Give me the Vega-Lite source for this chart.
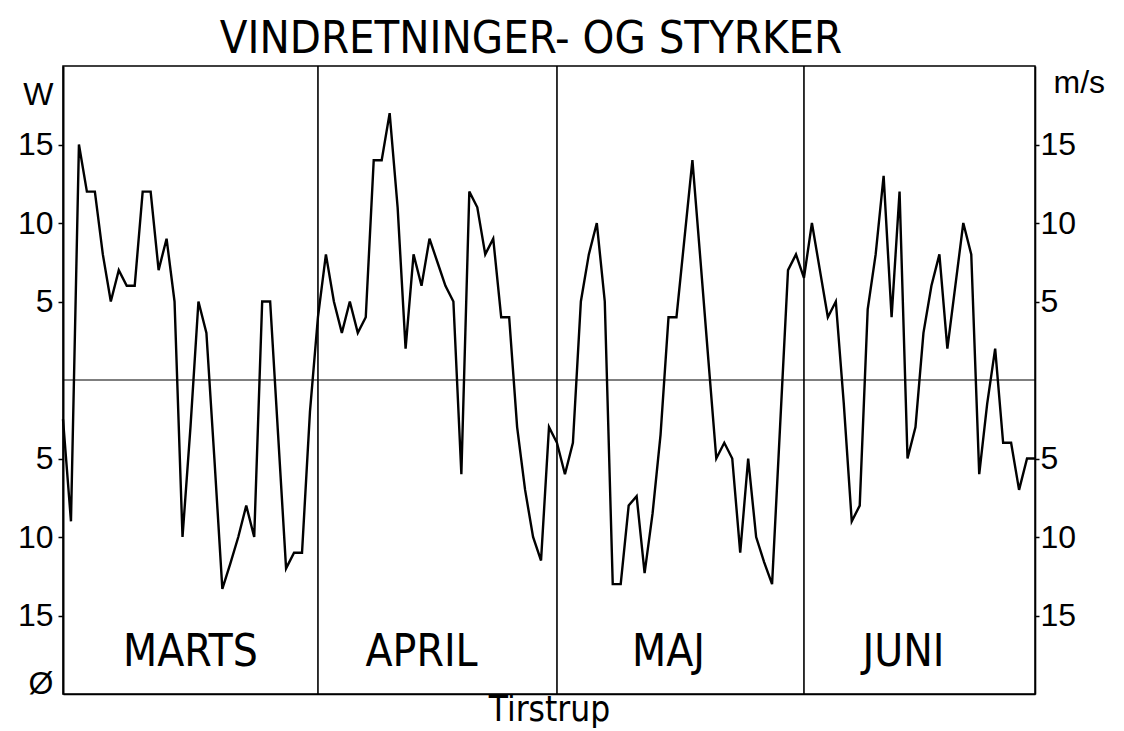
{
  "$schema": "https://vega.github.io/schema/vega-lite/v6.json",
  "width": 972,
  "height": 628,
  "autosize": {"type": "none"},
  "padding": {"left": 63, "top": 66, "right": 89, "bottom": 37},
  "background": "white",
  "title": {
    "text": "VINDRETNINGER- OG STYRKER",
    "font": "DejaVu Sans Condensed, Liberation Sans, sans-serif",
    "fontSize": 45,
    "fontWeight": "normal",
    "color": "black",
    "anchor": "middle",
    "baseline": "alphabetic",
    "offset": 11,
    "dx": -18,
    "dy": 44
  },
  "config": {"view": {"stroke": "black", "strokeWidth": 1.5}},
  "datasets": {
    "vind": [
      {"dag": 0, "vind": -2.5}, {"dag": 1, "vind": -9}, {"dag": 2, "vind": 15}, {"dag": 3, "vind": 12},
      {"dag": 4, "vind": 12}, {"dag": 5, "vind": 8}, {"dag": 6, "vind": 5}, {"dag": 7, "vind": 7},
      {"dag": 8, "vind": 6}, {"dag": 9, "vind": 6}, {"dag": 10, "vind": 12}, {"dag": 11, "vind": 12},
      {"dag": 12, "vind": 7}, {"dag": 13, "vind": 9}, {"dag": 14, "vind": 5}, {"dag": 15, "vind": -10},
      {"dag": 16, "vind": -3}, {"dag": 17, "vind": 5}, {"dag": 18, "vind": 3}, {"dag": 19, "vind": -5},
      {"dag": 20, "vind": -13.3}, {"dag": 21, "vind": -11.7}, {"dag": 22, "vind": -10}, {"dag": 23, "vind": -8},
      {"dag": 24, "vind": -10}, {"dag": 25, "vind": 5}, {"dag": 26, "vind": 5}, {"dag": 27, "vind": -3.5},
      {"dag": 28, "vind": -12}, {"dag": 29, "vind": -11}, {"dag": 30, "vind": -11}, {"dag": 31, "vind": -2},
      {"dag": 32, "vind": 4}, {"dag": 33, "vind": 8}, {"dag": 34, "vind": 5}, {"dag": 35, "vind": 3},
      {"dag": 36, "vind": 5}, {"dag": 37, "vind": 3}, {"dag": 38, "vind": 4}, {"dag": 39, "vind": 14},
      {"dag": 40, "vind": 14}, {"dag": 41, "vind": 17}, {"dag": 42, "vind": 11}, {"dag": 43, "vind": 2},
      {"dag": 44, "vind": 8}, {"dag": 45, "vind": 6}, {"dag": 46, "vind": 9}, {"dag": 47, "vind": 7.5},
      {"dag": 48, "vind": 6}, {"dag": 49, "vind": 5}, {"dag": 50, "vind": -6}, {"dag": 51, "vind": 12},
      {"dag": 52, "vind": 11}, {"dag": 53, "vind": 8}, {"dag": 54, "vind": 9}, {"dag": 55, "vind": 4},
      {"dag": 56, "vind": 4}, {"dag": 57, "vind": -3}, {"dag": 58, "vind": -7}, {"dag": 59, "vind": -10},
      {"dag": 60, "vind": -11.5}, {"dag": 61, "vind": -3}, {"dag": 62, "vind": -4}, {"dag": 63, "vind": -6},
      {"dag": 64, "vind": -4}, {"dag": 65, "vind": 5}, {"dag": 66, "vind": 8}, {"dag": 67, "vind": 10},
      {"dag": 68, "vind": 5}, {"dag": 69, "vind": -13}, {"dag": 70, "vind": -13}, {"dag": 71, "vind": -8},
      {"dag": 72, "vind": -7.4}, {"dag": 73, "vind": -12.3}, {"dag": 74, "vind": -8.5}, {"dag": 75, "vind": -3.5},
      {"dag": 76, "vind": 4}, {"dag": 77, "vind": 4}, {"dag": 78, "vind": 9}, {"dag": 79, "vind": 14},
      {"dag": 80, "vind": 7.7}, {"dag": 81, "vind": 1.3}, {"dag": 82, "vind": -5}, {"dag": 83, "vind": -4},
      {"dag": 84, "vind": -5}, {"dag": 85, "vind": -11}, {"dag": 86, "vind": -5}, {"dag": 87, "vind": -10},
      {"dag": 88, "vind": -11.6}, {"dag": 89, "vind": -13}, {"dag": 90, "vind": -3}, {"dag": 91, "vind": 7},
      {"dag": 92, "vind": 8}, {"dag": 93, "vind": 6.5}, {"dag": 94, "vind": 10}, {"dag": 95, "vind": 7},
      {"dag": 96, "vind": 4}, {"dag": 97, "vind": 5}, {"dag": 98, "vind": -1.5}, {"dag": 99, "vind": -9},
      {"dag": 100, "vind": -8}, {"dag": 101, "vind": 4.5}, {"dag": 102, "vind": 8}, {"dag": 103, "vind": 13},
      {"dag": 104, "vind": 4}, {"dag": 105, "vind": 12}, {"dag": 106, "vind": -5}, {"dag": 107, "vind": -3},
      {"dag": 108, "vind": 3}, {"dag": 109, "vind": 6}, {"dag": 110, "vind": 8}, {"dag": 111, "vind": 2},
      {"dag": 112, "vind": 6}, {"dag": 113, "vind": 10}, {"dag": 114, "vind": 8}, {"dag": 115, "vind": -6},
      {"dag": 116, "vind": -1.5}, {"dag": 117, "vind": 2}, {"dag": 118, "vind": -4}, {"dag": 119, "vind": -4},
      {"dag": 120, "vind": -7}, {"dag": 121, "vind": -5}, {"dag": 122, "vind": -5}
    ],
    "maaneder": [
      {"navn": "MARTS", "start": 0, "midt": 16},
      {"navn": "APRIL", "start": 32, "midt": 45},
      {"navn": "MAJ", "start": 62, "midt": 76},
      {"navn": "JUNI", "start": 93, "midt": 105.5}
    ]
  },
  "layer": [
    {
      "data": {"name": "vind"},
      "mark": {"type": "line", "color": "black", "strokeWidth": 2.4},
      "encoding": {
        "x": {
          "field": "dag", "type": "quantitative",
          "scale": {"domain": [0, 122], "nice": false, "zero": false},
          "axis": {
            "orient": "bottom", "title": "Tirstrup", "labels": false, "ticks": false, "grid": false,
            "domainColor": "black", "domainWidth": 1.6,
            "titleFont": "DejaVu Sans Condensed, Liberation Sans, sans-serif",
            "titleFontSize": 35, "titleFontWeight": "normal", "titleColor": "black", "titlePadding": -2
          }
        },
        "y": {
          "field": "vind", "type": "quantitative",
          "scale": {"domain": [-20, 20], "nice": false, "zero": false},
          "axis": {
            "orient": "left",
            "values": [18.2, 15, 10, 5, -5, -10, -15, -19.3],
            "labelExpr": "datum.value > 17 ? 'W' : datum.value < -17 ? 'Ø' : format(abs(datum.value), 'd')",
            "title": null,
            "grid": false,
            "domainColor": "black",
            "domainWidth": 2,
            "tickColor": "black",
            "tickWidth": 1.5,
            "tickSize": 5,
            "tickOpacity": {"condition": {"test": "abs(datum.value) > 17", "value": 0}, "value": 1},
            "labelPadding": 5,
            "labelFont": "Liberation Sans",
            "labelFontSize": 32,
            "labelColor": "black",
            "labelOverlap": false,
            "labelBound": false,
            "labelFlush": false
          }
        }
      }
    },
    {
      "data": {"values": [{"nul": 0}]},
      "mark": {"type": "rule", "color": "black", "strokeWidth": 1.2},
      "encoding": {
        "y": {
          "field": "nul", "type": "quantitative",
          "scale": {"domain": [-20, 20], "nice": false, "zero": false},
          "axis": {
            "orient": "right",
            "values": [15, 10, 5, -5, -10, -15],
            "labelExpr": "format(abs(datum.value), 'd')",
            "title": "m/s",
            "titleAngle": 0,
            "titleAlign": "left",
            "titleBaseline": "middle",
            "titleX": 18,
            "titleY": 16,
            "titleFont": "Liberation Sans",
            "titleFontSize": 32,
            "titleFontWeight": "normal",
            "titleColor": "black",
            "grid": false,
            "domainColor": "black",
            "domainWidth": 1.6,
            "tickColor": "black",
            "tickWidth": 1.5,
            "tickSize": 4,
            "labelPadding": 1,
            "labelFont": "Liberation Sans",
            "labelFontSize": 32,
            "labelColor": "black",
            "labelOverlap": false,
            "labelBound": false,
            "labelFlush": false
          }
        }
      }
    },
    {
      "data": {"name": "maaneder"},
      "transform": [{"filter": "datum.start > 0"}],
      "mark": {"type": "rule", "color": "black", "strokeWidth": 1.6},
      "encoding": {
        "x": {
          "field": "start", "type": "quantitative",
          "scale": {"domain": [0, 122], "nice": false, "zero": false},
          "axis": {
            "orient": "bottom", "title": "Tirstrup", "labels": false, "ticks": false, "grid": false,
            "domainColor": "black", "domainWidth": 1.6,
            "titleFont": "DejaVu Sans Condensed, Liberation Sans, sans-serif",
            "titleFontSize": 35, "titleFontWeight": "normal", "titleColor": "black", "titlePadding": -2
          }
        }
      }
    },
    {
      "data": {"name": "maaneder"},
      "mark": {
        "type": "text",
        "font": "DejaVu Sans Condensed, Liberation Sans, sans-serif",
        "fontSize": 44,
        "color": "black",
        "align": "center",
        "baseline": "alphabetic"
      },
      "encoding": {
        "x": {
          "field": "midt", "type": "quantitative",
          "scale": {"domain": [0, 122], "nice": false, "zero": false},
          "axis": {
            "orient": "bottom", "title": "Tirstrup", "labels": false, "ticks": false, "grid": false,
            "domainColor": "black", "domainWidth": 1.6,
            "titleFont": "DejaVu Sans Condensed, Liberation Sans, sans-serif",
            "titleFontSize": 35, "titleFontWeight": "normal", "titleColor": "black", "titlePadding": -2
          }
        },
        "y": {"datum": -18.2, "type": "quantitative", "scale": {"domain": [-20, 20], "nice": false, "zero": false}, "axis": null},
        "text": {"field": "navn"}
      }
    }
  ]
}
